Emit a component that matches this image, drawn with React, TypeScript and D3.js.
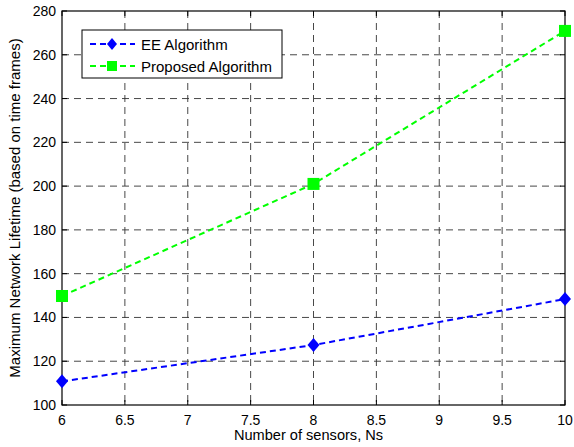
import React from "react";
import * as d3 from "d3";

const xValues = [6, 8, 10];
const eeValues = [110.8, 127.4, 148.4];
const proposedValues = [149.8, 201, 270.9];
const xTicks = [6, 6.5, 7, 7.5, 8, 8.5, 9, 9.5, 10];
const yTicks = [100, 120, 140, 160, 180, 200, 220, 240, 260, 280];
const seriesNames = ["EE Algorithm", "Proposed Algorithm"];

const W = 574, H = 447;
const L = 62, R = 565, T = 11, B = 405;

export default function App() {
  const x = d3.scaleLinear().domain([6, 10]).range([L, R]);
  const y = d3.scaleLinear().domain([100, 280]).range([B, T]);
  const line = d3.line<number>().x((_, i) => x(xValues[i])).y((d) => y(d));
  const font = "Liberation Sans, Arial, Helvetica, sans-serif";
  const diamond = (cx: number, cy: number, rx: number, ry: number) =>
    `M${cx},${cy - ry}L${cx + rx},${cy}L${cx},${cy + ry}L${cx - rx},${cy}Z`;
  return (
    <svg width={W} height={H} style={{ position: "absolute", left: 0, top: 0 }} fontFamily={font}>
      <rect x={0} y={0} width={W} height={H} fill="#fff" />
      {/* grid */}
      {xTicks.slice(1, -1).map((t) => (
        <line key={"gx" + t} x1={x(t)} x2={x(t)} y1={T} y2={B} stroke="#333" strokeWidth={0.9} strokeDasharray="7,5" />
      ))}
      {yTicks.slice(1, -1).map((t) => (
        <line key={"gy" + t} x1={L} x2={R} y1={y(t)} y2={y(t)} stroke="#333" strokeWidth={0.9} strokeDasharray="7,5" />
      ))}
      {/* ticks */}
      {xTicks.map((t) => (
        <g key={"tx" + t}>
          <line x1={x(t)} x2={x(t)} y1={B} y2={B - 5} stroke="#000" />
          <line x1={x(t)} x2={x(t)} y1={T} y2={T + 5} stroke="#000" />
          <text x={x(t)} y={B + 20} textAnchor="middle" fontSize={14}>{t}</text>
        </g>
      ))}
      {yTicks.map((t) => (
        <g key={"ty" + t}>
          <line x1={L} x2={L + 5} y1={y(t)} y2={y(t)} stroke="#000" />
          <line x1={R} x2={R - 5} y1={y(t)} y2={y(t)} stroke="#000" />
          <text x={L - 6} y={y(t) + 5} textAnchor="end" fontSize={14}>{t}</text>
        </g>
      ))}
      <rect x={L} y={T} width={R - L} height={B - T} fill="none" stroke="#000" strokeWidth={1.2} />
      {/* series */}
      <path d={line(eeValues) || ""} fill="none" stroke="#0000ff" strokeWidth={2} strokeDasharray="6,4" />
      <path d={line(proposedValues) || ""} fill="none" stroke="#00ff00" strokeWidth={2} strokeDasharray="6,4" />
      {eeValues.map((v, i) => (
        <path key={"ee" + i} d={diamond(x(xValues[i]), y(v), 6, 7)} fill="#0000ff" />
      ))}
      {proposedValues.map((v, i) => (
        <rect key={"pr" + i} x={x(xValues[i]) - 6} y={y(v) - 6} width={12} height={12} fill="#00ff00" />
      ))}
      {/* legend */}
      <rect x={82} y={30} width={200} height={48} fill="#fff" stroke="#000" strokeWidth={1} />
      <line x1={90} x2={135} y1={44} y2={44} stroke="#0000ff" strokeWidth={2} strokeDasharray="6,4" />
      <path d={diamond(112, 44, 5, 6)} fill="#0000ff" />
      <text x={141} y={49.5} fontSize={15}>{seriesNames[0]}</text>
      <line x1={90} x2={135} y1={66} y2={66} stroke="#00ff00" strokeWidth={2} strokeDasharray="6,4" />
      <rect x={107} y={61} width={10} height={10} fill="#00ff00" />
      <text x={141} y={71.5} fontSize={15}>{seriesNames[1]}</text>
      {/* axis labels */}
      <text x={(L + R) / 2 - 5} y={440} textAnchor="middle" fontSize={14.6}>Number of sensors, Ns</text>
      <text transform={`translate(20,${(T + B) / 2}) rotate(-90)`} textAnchor="middle" fontSize={15}>
        Maximum Network Lifetime (based on time frames)
      </text>
    </svg>
  );
}
